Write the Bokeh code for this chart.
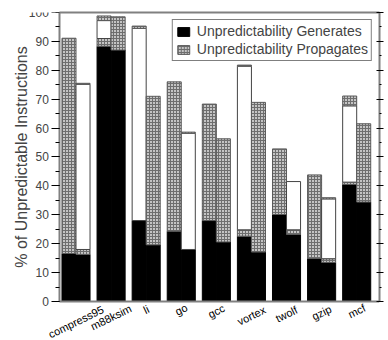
import numpy as np
from bokeh.plotting import figure
from bokeh.models import (ColumnDataSource, Range1d, LinearAxis, FixedTicker,
                          SingleIntervalTicker, Legend, LegendItem, LabelSet,
                          CustomLabelingPolicy)
from bokeh.core.properties import value
from bokeh.embed import file_html
from bokeh.resources import INLINE

benchmarks = ["compress95", "m88ksim", "li", "go", "gcc", "vortex", "twolf", "gzip", "mcf"]

# left bar of each pair
gen_a = [16.6, 88.3, 28.0, 24.3, 28.0, 22.6, 30.1, 14.9, 40.5]
prop_a = [74.5, 2.7, 0.0, 51.7, 40.3, 2.2, 22.7, 28.9, 0.8]
white_a = [0.0, 6.2, 66.5, 0.0, 0.0, 56.6, 0.0, 0.0, 26.4]
cap_a = [0.0, 1.6, 0.8, 0.0, 0.0, 0.4, 0.0, 0.0, 3.4]

# right bar of each pair
gen_b = [16.3, 87.0, 19.6, 18.0, 20.6, 17.1, 23.2, 13.5, 34.4]
prop_b = [1.7, 11.5, 51.4, 0.0, 35.7, 51.8, 1.6, 1.3, 27.1]
white_b = [57.1, 0.0, 0.0, 40.2, 0.0, 0.0, 16.7, 20.7, 0.0]
cap_b = [0.4, 0.0, 0.0, 0.4, 0.0, 0.0, 0.0, 0.4, 0.0]

yticks_interval = 10

FONT = "Liberation Sans"
AXIS_GRAY = "#808080"

X0, X1 = -0.46, 8.65          # visible plotting box (between the axes)
# the frame covers the whole canvas (except the right tick strip and top margin), so the
# rotated category names and the axis texts are never clipped; axes are pinned in place.
p = figure(width=388, height=340, x_range=Range1d(-2.152, X1), y_range=Range1d(-13.5, 100),
           output_backend="svg", toolbar_location=None,
           min_border_left=0, min_border_right=5, min_border_top=12, min_border_bottom=0)
p.xgrid.visible = False
p.ygrid.visible = False
p.outline_line_color = None

STIPPLE = dict(fill_color="#c4c4c4", hatch_pattern="+", hatch_color="#6e6e6e",
               hatch_scale=3, hatch_weight=1, line_color="#5a5a5a", line_width=1)

W = 0.4
idx = np.arange(len(benchmarks))


def draw_bar(offset, gen, prop, white, cap):
    gen = np.array(gen); prop = np.array(prop); white = np.array(white); cap = np.array(cap)
    x = idx + offset
    levels = [gen, gen + prop, gen + prop + white, gen + prop + white + cap]
    bottoms = [np.zeros_like(gen), levels[0], levels[1], levels[2]]
    rends = []
    styles = [dict(fill_color="black", line_color="black", line_width=1),
              STIPPLE,
              dict(fill_color="white", line_color="#444444", line_width=1),
              STIPPLE]
    for b, t, st in zip(bottoms, levels, styles):
        m = (t - b) > 0
        src = ColumnDataSource(dict(x=x[m], bottom=b[m], top=t[m]))
        r = p.vbar(x="x", bottom="bottom", top="top", width=W, source=src, **st)
        rends.append(r)
    return rends


ra = draw_bar(-W / 2, gen_a, prop_a, white_a, cap_a)
rb = draw_bar(W / 2, gen_b, prop_b, white_b, cap_b)

# left axis, pinned at the left edge of the plotting box
yax = p.left[0]
yax.fixed_location = X0
yax.ticker = SingleIntervalTicker(interval=yticks_interval, num_minor_ticks=2)
yax.bounds = (0, 100)
yax.axis_label = "% of Unpredictable Instructions"
yax.axis_label_text_font = FONT
yax.axis_label_text_font_size = "16px"
yax.axis_label_text_font_style = "normal"
yax.axis_label_standoff = -5
yax.major_label_text_font = FONT
yax.major_label_text_font_size = "12px"
yax.axis_line_color = AXIS_GRAY
yax.axis_line_width = 2
yax.major_tick_out = 8
yax.major_tick_in = 0
yax.minor_tick_out = 4
yax.minor_tick_in = 0
yax.major_label_standoff = 3

# right axis (ticks only, labels hidden by policy)
hide_all = CustomLabelingPolicy(code="""
try {
  const ids = [];
  for (const i of indices) ids.push(i);
  for (const i of ids) { if (indices.unset) indices.unset(i); else indices.set(i, false); }
} catch (e) {}
return indices;
""")
rax = LinearAxis(ticker=SingleIntervalTicker(interval=yticks_interval, num_minor_ticks=2),
                 bounds=(0, 100),
                 major_label_policy=hide_all, major_label_text_font_size="1px",
                 major_label_standoff=0,
                 axis_line_color=AXIS_GRAY, axis_line_width=2,
                 major_tick_in=3, major_tick_out=4, minor_tick_in=0, minor_tick_out=2)
p.add_layout(rax, "right")

# top border line
tax = LinearAxis(ticker=FixedTicker(ticks=[]), bounds=(X0, X1),
                 axis_line_color=AXIS_GRAY, axis_line_width=2,
                 major_tick_line_color=None, minor_tick_line_color=None)
p.add_layout(tax, "above")

# bottom axis line at y = 0
xax = p.below[0]
xax.ticker = FixedTicker(ticks=[])
xax.fixed_location = 0
xax.bounds = (X0, X1)
xax.major_tick_line_color = None
xax.minor_tick_line_color = None
xax.axis_line_color = AXIS_GRAY
xax.axis_line_width = 2

# category names centred under each pair, rotated
ANGLE = 0.455
char_w = 7.0
lab_h = 11.0
yoff = [-(0.5 * (len(n) * char_w * np.sin(ANGLE) + lab_h * np.cos(ANGLE))) for n in benchmarks]
lab_src = ColumnDataSource(dict(x=idx, y=np.zeros(len(idx)), text=benchmarks, yoff=yoff))
labels = LabelSet(x="x", y="y", text="text", y_offset="yoff", source=lab_src,
                  angle=ANGLE, text_align="center", text_baseline="middle",
                  text_font=value(FONT), text_font_size="11px", text_color="black")
p.add_layout(labels)

legend = Legend(items=[LegendItem(label="Unpredictability Generates", renderers=[ra[0]]),
                       LegendItem(label="Unpredictability Propagates", renderers=[ra[1]])],
                location="top_right", margin=7, padding=3, spacing=2,
                glyph_width=15, glyph_height=11, label_standoff=6, label_height=14,
                label_text_font=FONT, label_text_font_size="14px",
                border_line_color="black", border_line_width=1, background_fill_alpha=1)
p.add_layout(legend)

open("out.html", "w").write(file_html(p, INLINE))
